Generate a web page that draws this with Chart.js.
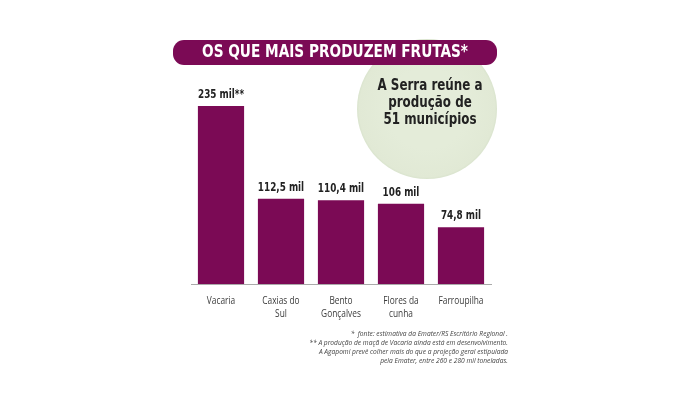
<!DOCTYPE html>
<html>
<head>
<meta charset="utf-8">
<script src="https://cdn.jsdelivr.net/npm/chart.js@4"></script>
<style>
  html, body { margin: 0; padding: 0; background: #fff; }
  #wrap { width: 700px; height: 395px; }
</style>
</head>
<body>
<div id="wrap"><canvas id="fruitChart" width="700" height="395"></canvas></div>
<script>
// data (mil toneladas)
const cities = [['Vacaria'], ['Caxias do', 'Sul'], ['Bento', 'Gonçalves'], ['Flores da', 'cunha'], ['Farroupilha']];
const production = [235, 112.5, 110.4, 106, 74.8];
const valueLabels = ['235 mil**', '112,5 mil', '110,4 mil', '106 mil', '74,8 mil'];

const titleText = 'OS QUE MAIS PRODUZEM FRUTAS*';
const bubbleLines = ['A Serra reúne a', 'produção de', '51 municípios'];
const notes = [
    '*  fonte: estimativa da Emater/RS Escritório Regional .',
    '** A produção de maçã de Vacaria ainda está em desenvolvimento.',
    'A Agapomi prevê colher mais do que a projeção geral estipulada',
    'pela Emater, entre 260 e 280 mil toneladas.'
];

const PURPLE = '#7b0a55';

// draw text squeezed horizontally (no narrow font installed)
function narrowText(c, text, x, y, sx) {
    c.save();
    c.translate(x, y);
    c.scale(sx, 1);
    c.fillText(text, 0, 0);
    c.restore();
}

const decor = {
    id: 'decor',
    beforeDatasetsDraw(chart) {
        const c = chart.ctx;
        c.save();
        // green bubble
        const g = c.createRadialGradient(427, 109, 40, 427, 109, 71);
        g.addColorStop(0, '#e4ecd9');
        g.addColorStop(0.9, '#e1e9d5');
        g.addColorStop(1, '#d6e1ca');
        c.beginPath();
        c.arc(427, 109, 70, 0, Math.PI * 2);
        c.fillStyle = g;
        c.fill();

        // title pill
        c.beginPath();
        c.roundRect(173, 40, 324, 25, 11);
        c.fillStyle = PURPLE;
        c.fill();
        c.fillStyle = '#fff';
        c.font = 'bold 18px "DejaVu Sans Condensed", sans-serif';
        c.textAlign = 'center';
        c.textBaseline = 'middle';
        let sx = 266 / c.measureText(titleText).width;
        narrowText(c, titleText, 335, 52.5, sx);

        // bubble text
        c.fillStyle = '#222';
        c.font = 'bold 16px "DejaVu Sans Condensed", sans-serif';
        sx = 105 / c.measureText(bubbleLines[0]).width;
        bubbleLines.forEach((t, i) => narrowText(c, t, 430, 86 + i * 17, sx));
        c.restore();
    },
    afterDatasetsDraw(chart) {
        const c = chart.ctx;
        const meta = chart.getDatasetMeta(0);
        const xs = chart.scales.x;
        c.save();
        c.fillStyle = '#222';
        c.font = 'bold 13px "DejaVu Sans Condensed", sans-serif';
        c.textAlign = 'center';
        c.textBaseline = 'alphabetic';
        let sx = 46 / c.measureText(valueLabels[0]).width;
        meta.data.forEach((bar, i) => {
            narrowText(c, valueLabels[i], bar.x, bar.y - 8, sx);
        });

        // category labels under the axis
        c.fillStyle = '#3a3a3a';
        c.font = '11.5px "Open Sans", sans-serif';
        c.textBaseline = 'middle';
        sx = 45 / c.measureText('Farroupilha').width;
        cities.forEach((lines, i) => {
            const x = xs.getPixelForValue(i);
            lines.forEach((t, j) => narrowText(c, t, x, xs.top + 17 + j * 12.5, sx));
        });

        // footnotes
        c.fillStyle = '#444';
        c.font = 'italic 7px "Open Sans", sans-serif';
        c.textAlign = 'right';
        c.textBaseline = 'alphabetic';
        notes.forEach((t, i) => narrowText(c, t, 508, 336 + i * 9, 0.95));
        c.restore();
    }
};

new Chart(document.getElementById('fruitChart'), {
    type: 'bar',
    data: {
        labels: cities,
        datasets: [{
            data: production,
            backgroundColor: PURPLE,
            barPercentage: 0.77,
            categoryPercentage: 1
        }]
    },
    options: {
        responsive: false,
        animation: false,
        layout: { padding: { left: 191, right: 209, top: 87, bottom: 0 } },
        plugins: { legend: { display: false }, tooltip: { enabled: false } },
        scales: {
            y: { display: false, min: 0, max: 260 },
            x: {
                grid: { display: false, drawTicks: false },
                border: { display: true, color: '#aaa', width: 1 },
                ticks: { display: false },
                afterFit(scale) { scale.height = 111; }
            }
        }
    },
    plugins: [decor]
});
</script>
</body>
</html>
